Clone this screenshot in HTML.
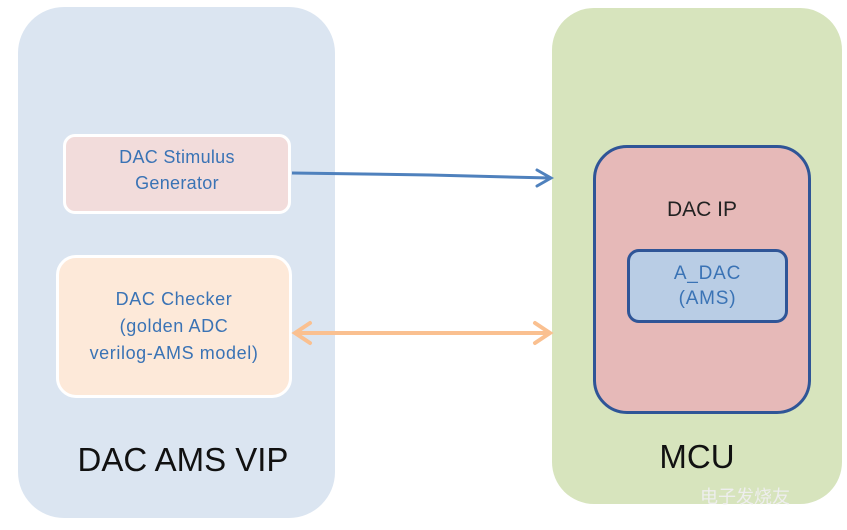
<!DOCTYPE html>
<html><head><style>
body{margin:0;width:847px;height:530px;background:#fff;overflow:hidden;position:relative;font-family:"Liberation Sans",sans-serif}
.b{position:absolute;box-sizing:border-box}
.t{position:absolute;text-align:center;white-space:nowrap}
</style></head><body>
<div class="b" style="left:18px;top:7px;width:317px;height:511px;background:#dbe5f1;border-radius:46px"></div>
<div class="b" style="left:552px;top:8px;width:290px;height:496px;background:#d7e4bd;border-radius:42px"></div>
<div class="b" style="left:63px;top:134px;width:228px;height:80px;background:#f2dcdb;border:3px solid #fff;border-radius:12px"></div>
<div class="b" style="left:56px;top:255px;width:236px;height:143px;background:#fde9d9;border:3px solid #fff;border-radius:20px"></div>
<div class="b" style="left:593px;top:145px;width:218px;height:269px;background:#e6b9b8;border:3px solid #2f5597;border-radius:34px"></div>
<div class="b" style="left:627px;top:249px;width:161px;height:74px;background:#b9cde5;border:3px solid #2f5597;border-radius:12px"></div>
<svg width="847" height="530" style="position:absolute;left:0;top:0">
<path d="M292 173 L430 175 L550 178" fill="none" stroke="#4f81bd" stroke-width="3"/>
<path d="M537 170 L551 178 L537 186" fill="none" stroke="#4f81bd" stroke-width="3" stroke-linecap="round"/>
<line x1="296" y1="333" x2="549" y2="333" stroke="#fac090" stroke-width="4"/>
<path d="M310 323 L295 333 L310 343" fill="none" stroke="#fac090" stroke-width="4" stroke-linecap="round"/>
<path d="M535 323 L550 333 L535 343" fill="none" stroke="#fac090" stroke-width="4" stroke-linecap="round"/>
</svg>
<div class="t" style="left:63px;width:228px;top:144px;font-size:18px;line-height:26px;color:#3a73b5;letter-spacing:0.3px">DAC Stimulus<br>Generator</div>
<div class="t" style="left:56px;width:236px;top:286px;font-size:18px;line-height:27px;color:#3a73b5;letter-spacing:0.6px">DAC Checker<br>(golden ADC<br>verilog-AMS model)</div>
<div class="t" style="left:18px;width:330px;top:441px;font-size:33px;color:#111">DAC AMS VIP</div>
<div class="t" style="left:593px;width:218px;top:198px;font-size:21px;color:#222">DAC IP</div>
<div class="t" style="left:627px;width:161px;top:261px;font-size:19px;line-height:25px;color:#3a73b5;letter-spacing:0.8px">A_DAC<br>(AMS)</div>
<div class="t" style="left:552px;width:290px;top:438px;font-size:33px;color:#111">MCU</div>
<div class="t" style="left:700px;top:483px;font-size:18px;color:#eee;font-family:'Noto Sans CJK SC',sans-serif">电子发烧友</div>
</body></html>
